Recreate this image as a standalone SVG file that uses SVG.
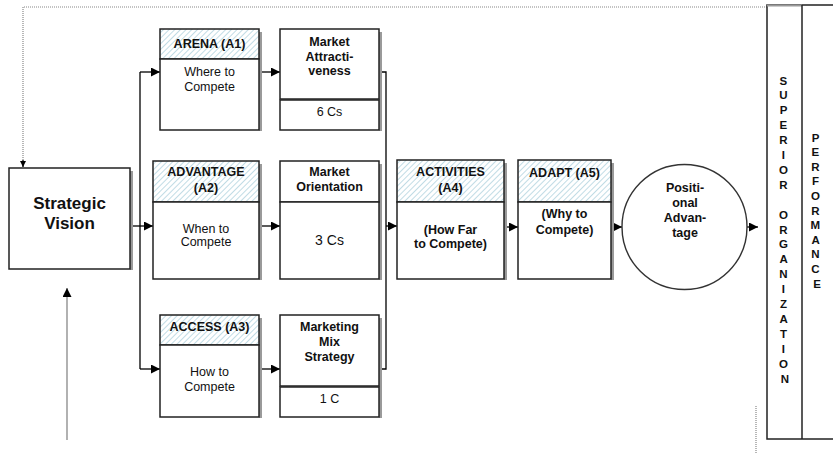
<svg xmlns="http://www.w3.org/2000/svg" width="833" height="454" viewBox="0 0 833 454">
  <defs>
    <pattern id="hatch" patternUnits="userSpaceOnUse" width="4" height="4" patternTransform="rotate(45)">
      <rect width="4" height="4" fill="#ffffff"/>
      <line x1="0" y1="0" x2="0" y2="4" stroke="#9fcad8" stroke-width="1.3"/>
    </pattern>
    <marker id="arrow" viewBox="0 0 10 10" refX="10" refY="5" markerWidth="10" markerHeight="9" markerUnits="userSpaceOnUse" orient="auto">
      <path d="M0,0 L10,5 L0,10 z" fill="#000"/>
    </marker>
    <marker id="arrowSmall" viewBox="0 0 10 10" refX="10" refY="5" markerWidth="6" markerHeight="9" markerUnits="userSpaceOnUse" orient="auto">
      <path d="M0,0 L10,5 L0,10 z" fill="#000"/>
    </marker>
  </defs>
  <style>
    .box { fill: #ffffff; stroke: #222; stroke-width: 1.5; }
    .hdr { fill: url(#hatch); stroke: #222; stroke-width: 1.5; }
    .shadow { fill: #9a9a9a; }
    .wire { fill: none; stroke: #000; stroke-width: 1.3; }
    .dots { fill: none; stroke: #888; stroke-width: 1.2; stroke-dasharray: 1 1; }
    text { font-family: "Liberation Sans", Arial, sans-serif; fill: #111; text-anchor: middle; }
    .b { font-weight: bold; font-size: 12.5px; }
    .r { font-size: 12.5px; }
    .big { font-weight: bold; font-size: 17px; }
    .v { font-weight: bold; font-size: 11.5px; }
  </style>

  <rect width="833" height="454" fill="#ffffff"/>

  <!-- connectors -->
  <g id="connectors">
    <path class="dots" d="M767,7 H23 V160"/>
    <path class="wire" d="M23,160 V167" marker-end="url(#arrowSmall)" stroke="#555"/>
    <path d="M67,440 V288" fill="none" stroke="#888" stroke-width="1.3" marker-end="url(#arrow)"/>
    <path class="wire" d="M130,226 H153" marker-end="url(#arrow)"/>
    <path class="wire" d="M140,72 V369"/>
    <path class="wire" d="M140,72 H160" marker-end="url(#arrow)"/>
    <path class="wire" d="M140,369 H160" marker-end="url(#arrow)"/>
    <path class="wire" d="M259,72 H280" marker-end="url(#arrow)"/>
    <path class="wire" d="M259,226 H280" marker-end="url(#arrow)"/>
    <path class="wire" d="M259,369 H280" marker-end="url(#arrow)"/>
    <path class="wire" d="M379,72 H386 V369 H379"/>
    <path class="wire" d="M386,226 H397" marker-end="url(#arrow)"/>
    <path class="wire" d="M504,227 H518" marker-end="url(#arrow)"/>
    <path class="wire" d="M611,227 H622" marker-end="url(#arrow)"/>
    <path class="wire" d="M747,227 H758" marker-end="url(#arrow)"/>
    <path class="dots" d="M756,406 V454"/>
  </g>

  <!-- Strategic Vision -->
  <g id="strategic-vision">
    <rect class="shadow" x="130" y="171" width="3" height="99"/>
    <rect class="box" x="9" y="168" width="121" height="101"/>
    <text class="big" x="69.5" y="209">Strategic</text>
    <text class="big" x="69.5" y="229">Vision</text>
  </g>

  <!-- ARENA (A1) -->
  <g id="arena">
    <rect class="shadow" x="259" y="32" width="3" height="99"/>
    <rect class="hdr" x="160" y="29" width="99" height="30"/>
    <rect class="box" x="160" y="59" width="99" height="71"/>
    <text class="b" x="209.5" y="48">ARENA (A1)</text>
    <text class="r" x="209.5" y="76">Where to</text>
    <text class="r" x="209.5" y="91">Compete</text>
  </g>

  <!-- Market Attractiveness -->
  <g id="market-attractiveness">
    <rect class="shadow" x="379" y="32" width="3" height="99"/>
    <rect class="box" x="280" y="29" width="99" height="70"/>
    <rect class="box" x="280" y="100" width="99" height="30"/>
    <text class="b" x="329.5" y="46">Market</text>
    <text class="b" x="329.5" y="61">Attracti-</text>
    <text class="b" x="329.5" y="75">veness</text>
    <text class="r" x="329.5" y="116">6 Cs</text>
  </g>

  <!-- ADVANTAGE (A2) -->
  <g id="advantage">
    <rect class="shadow" x="259" y="164" width="3" height="116"/>
    <rect class="hdr" x="153" y="161" width="106" height="41"/>
    <rect class="box" x="153" y="202" width="106" height="77"/>
    <text class="b" x="206" y="176">ADVANTAGE</text>
    <text class="b" x="206" y="192">(A2)</text>
    <text class="r" x="206" y="233">When to</text>
    <text class="r" x="206" y="246">Compete</text>
  </g>

  <!-- Market Orientation -->
  <g id="market-orientation">
    <rect class="shadow" x="379" y="164" width="3" height="116"/>
    <rect class="box" x="280" y="161" width="99" height="41"/>
    <rect class="box" x="280" y="202" width="99" height="77"/>
    <text class="b" x="329.5" y="176">Market</text>
    <text class="b" x="329.5" y="191">Orientation</text>
    <text x="329.5" y="245" font-size="14px">3 Cs</text>
  </g>

  <!-- ACCESS (A3) -->
  <g id="access">
    <rect class="shadow" x="259" y="318" width="3" height="100"/>
    <rect class="hdr" x="160" y="315" width="99" height="30"/>
    <rect class="box" x="160" y="345" width="99" height="72"/>
    <text class="b" x="209.5" y="331">ACCESS (A3)</text>
    <text class="r" x="209.5" y="376">How to</text>
    <text class="r" x="209.5" y="391">Compete</text>
  </g>

  <!-- Marketing Mix Strategy -->
  <g id="marketing-mix">
    <rect class="shadow" x="379" y="318" width="3" height="100"/>
    <rect class="box" x="280" y="315" width="99" height="71"/>
    <rect class="box" x="280" y="387" width="99" height="30"/>
    <text class="b" x="329.5" y="331">Marketing</text>
    <text class="b" x="329.5" y="346">Mix</text>
    <text class="b" x="329.5" y="361">Strategy</text>
    <text class="r" x="329.5" y="403">1 C</text>
  </g>

  <!-- ACTIVITIES (A4) -->
  <g id="activities">
    <rect class="shadow" x="504" y="163" width="3" height="117"/>
    <rect class="hdr" x="397" y="160" width="107" height="42"/>
    <rect class="box" x="397" y="202" width="107" height="77"/>
    <text class="b" x="450.5" y="176">ACTIVITIES</text>
    <text class="b" x="450.5" y="192">(A4)</text>
    <text class="b" x="450.5" y="234">(How Far</text>
    <text class="b" x="450.5" y="248">to Compete)</text>
  </g>

  <!-- ADAPT (A5) -->
  <g id="adapt">
    <rect class="shadow" x="611" y="163" width="3" height="117"/>
    <rect class="hdr" x="518" y="160" width="93" height="42"/>
    <rect class="box" x="518" y="202" width="93" height="77"/>
    <text class="b" x="564.5" y="177">ADAPT (A5)</text>
    <text class="b" x="564.5" y="218">(Why to</text>
    <text class="b" x="564.5" y="234">Compete)</text>
  </g>

  <!-- Positional Advantage -->
  <g id="positional-advantage">
    <circle cx="684.5" cy="227" r="62.5" fill="#ffffff" stroke="#333" stroke-width="1.4"/>
    <text class="b" x="685" y="192">Positi-</text>
    <text class="b" x="685" y="207">onal</text>
    <text class="b" x="685" y="222">Advan-</text>
    <text class="b" x="685" y="237">tage</text>
  </g>

  <!-- Superior Organization / Performance -->
  <g id="superior-performance">
    <rect x="767" y="5" width="80" height="434" fill="#ffffff" stroke="#222" stroke-width="1.5"/>
    <line x1="767" y1="5.5" x2="802" y2="5.5" stroke="#999" stroke-width="2"/>
    <line x1="802" y1="5" x2="802" y2="439" stroke="#222" stroke-width="1.5"/>
    <text class="v">
      <tspan x="785" y="84.5">S</tspan>
      <tspan x="785" y="99.4">U</tspan>
      <tspan x="785" y="114.3">P</tspan>
      <tspan x="785" y="129.2">E</tspan>
      <tspan x="785" y="144.1">R</tspan>
      <tspan x="785" y="159">I</tspan>
      <tspan x="785" y="173.9">O</tspan>
      <tspan x="785" y="188.8">R</tspan>
      <tspan x="785" y="218.6">O</tspan>
      <tspan x="785" y="233.5">R</tspan>
      <tspan x="785" y="248.4">G</tspan>
      <tspan x="785" y="263.3">A</tspan>
      <tspan x="785" y="278.2">N</tspan>
      <tspan x="785" y="293.1">I</tspan>
      <tspan x="785" y="308">Z</tspan>
      <tspan x="785" y="322.9">A</tspan>
      <tspan x="785" y="337.8">T</tspan>
      <tspan x="785" y="352.7">I</tspan>
      <tspan x="785" y="367.6">O</tspan>
      <tspan x="785" y="382.5">N</tspan>
    </text>
    <text class="v">
      <tspan x="817" y="141.5">P</tspan>
      <tspan x="817" y="156.1">E</tspan>
      <tspan x="817" y="170.7">R</tspan>
      <tspan x="817" y="185.3">F</tspan>
      <tspan x="817" y="199.9">O</tspan>
      <tspan x="817" y="214.5">R</tspan>
      <tspan x="817" y="229.1">M</tspan>
      <tspan x="817" y="243.7">A</tspan>
      <tspan x="817" y="258.3">N</tspan>
      <tspan x="817" y="272.9">C</tspan>
      <tspan x="817" y="287.5">E</tspan>
    </text>
  </g>
</svg>
